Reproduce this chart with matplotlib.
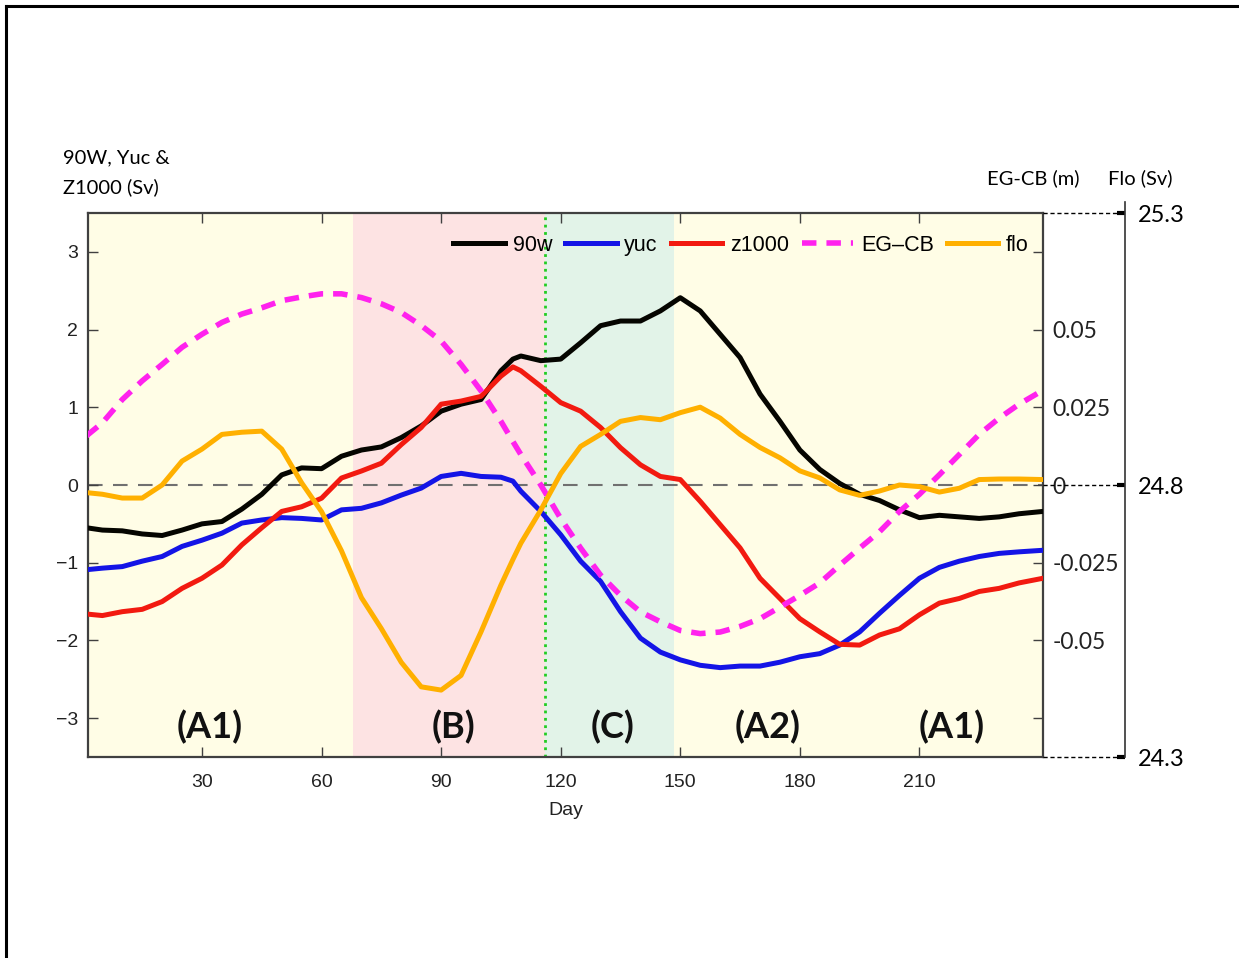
import matplotlib
matplotlib.use("Agg")
import matplotlib.pyplot as plt
import numpy as np

# day axis and the five series
days = [1, 5, 10, 15, 20, 25, 30, 35, 40, 45, 50, 55, 60, 65, 70, 75, 80, 85, 90, 95,
        100, 105, 108, 110, 115, 120, 125, 130, 135, 140, 145, 150, 155, 160, 165, 170,
        175, 180, 185, 190, 195, 200, 205, 210, 215, 220, 225, 230, 235, 241]

w90 = [-0.55, -0.58, -0.59, -0.63, -0.65, -0.58, -0.50, -0.47, -0.31, -0.12, 0.13, 0.22,
       0.21, 0.37, 0.45, 0.49, 0.61, 0.76, 0.95, 1.04, 1.10, 1.47, 1.62, 1.66, 1.60, 1.62,
       1.83, 2.05, 2.11, 2.11, 2.24, 2.41, 2.24, 1.94, 1.64, 1.17, 0.82, 0.45, 0.20, 0.02,
       -0.12, -0.20, -0.32, -0.42, -0.39, -0.41, -0.43, -0.41, -0.37, -0.34]

yuc = [-1.09, -1.07, -1.05, -0.98, -0.92, -0.79, -0.71, -0.62, -0.49, -0.45, -0.42, -0.43,
       -0.45, -0.32, -0.30, -0.23, -0.13, -0.04, 0.11, 0.15, 0.11, 0.10, 0.05, -0.08, -0.34,
       -0.64, -0.98, -1.24, -1.63, -1.97, -2.15, -2.25, -2.32, -2.35, -2.33, -2.33, -2.28,
       -2.21, -2.17, -2.06, -1.89, -1.65, -1.42, -1.20, -1.06, -0.98, -0.92, -0.88, -0.86, -0.84]

z1000 = [-1.66, -1.68, -1.63, -1.60, -1.50, -1.33, -1.20, -1.03, -0.77, -0.55, -0.34, -0.28,
         -0.17, 0.09, 0.18, 0.28, 0.52, 0.74, 1.04, 1.08, 1.14, 1.40, 1.52, 1.47, 1.27, 1.06,
         0.95, 0.74, 0.48, 0.26, 0.11, 0.07, -0.21, -0.51, -0.81, -1.20, -1.46, -1.72, -1.89,
         -2.05, -2.06, -1.93, -1.85, -1.67, -1.52, -1.46, -1.37, -1.33, -1.26, -1.20]

egcb = [0.0158, 0.0200, 0.0275, 0.0335, 0.0388, 0.0443, 0.0485, 0.0523, 0.0550, 0.0570,
        0.0593, 0.0605, 0.0615, 0.0615, 0.0603, 0.0583, 0.0555, 0.0513, 0.0463, 0.0388,
        0.0303, 0.0205, 0.0140, 0.0098, 0.0000, -0.0108, -0.0203, -0.0290, -0.0355, -0.0408,
        -0.0440, -0.0468, -0.0478, -0.0473, -0.0455, -0.0430, -0.0393, -0.0355, -0.0315,
        -0.0258, -0.0203, -0.0150, -0.0085, -0.0030, 0.0033, 0.0098, 0.0163, 0.0215, 0.0260, 0.0305]

flo = [24.786, 24.783, 24.776, 24.776, 24.800, 24.844, 24.866, 24.893, 24.897, 24.899,
       24.866, 24.804, 24.751, 24.679, 24.593, 24.536, 24.474, 24.429, 24.423, 24.450,
       24.530, 24.616, 24.663, 24.693, 24.754, 24.821, 24.871, 24.893, 24.917, 24.924,
       24.920, 24.933, 24.943, 24.923, 24.893, 24.869, 24.850, 24.826, 24.813, 24.791,
       24.781, 24.789, 24.800, 24.797, 24.787, 24.794, 24.810, 24.811, 24.811, 24.810]

# phases
phase_edges = [1.4, 68, 116, 148.5, 241]
phase_cols = ['#FFFDE6', '#FDE3E3', '#E2F3E8', '#FFFDE6']
phase_names = ['(A1)', '(B)', '(C)', '(A2)', '(A1)']
phase_x = [32, 93, 133, 172, 218]

helv = 'Liberation Sans'
cal = 'Lato'
ax_col = '#404040'
LW = 3.6

fig = plt.figure(figsize=(12.39, 9.58), dpi=100)
ax = fig.add_axes([88/1239, 1-757/958, (1043-88)/1239, (757-213)/958])

for i in range(4):
    ax.axvspan(phase_edges[i], phase_edges[i+1], color=phase_cols[i], lw=0, zorder=0)
ax.axvline(116, color='#22CC22', lw=2, ls=':', zorder=1)
ax.axhline(0, color='#707070', lw=1.5, dashes=(7, 5), zorder=1)

l1, = ax.plot(days, w90, color='#050500', lw=LW, label='90w', zorder=3, solid_joinstyle='round')
l2, = ax.plot(days, yuc, color='#1414E6', lw=LW, label='yuc', zorder=3, solid_joinstyle='round')
l3, = ax.plot(days, z1000, color='#F21A10', lw=LW, label='z1000', zorder=3, solid_joinstyle='round')

ax.set_xlim(1.4, 241)
ax.set_ylim(-3.5, 3.5)
ax.set_xticks([30, 60, 90, 120, 150, 180, 210])
ax.set_yticks([-3, -2, -1, 0, 1, 2, 3])
ax.tick_params(direction='in', length=7, width=1, colors=ax_col, labelcolor='#222222',
               labelsize=14, top=True)
ax.tick_params(axis='x', pad=12)
ax.tick_params(axis='y', pad=7)
for lab in ax.get_xticklabels() + ax.get_yticklabels():
    lab.set_fontfamily(helv)
ax.set_xlabel('Day', fontsize=14, fontfamily=helv, color='#222222', labelpad=8)
for s in ax.spines.values():
    s.set_color(ax_col)
    s.set_linewidth(1.6)

for name, xp in zip(phase_names, phase_x):
    ax.text(xp, -3.12, name, fontsize=26, fontweight='bold', fontfamily=cal,
            ha='center', va='center', color='#111111', zorder=5)

# EG-CB axis
ax2 = ax.twinx()
ax2.set_ylim(-0.0875, 0.0875)
l4, = ax2.plot(days, egcb, color='#FF22EE', lw=4, dashes=(2.6, 1.8), label='EG\u2013CB', zorder=2)
ax2.set_yticks([-0.075, -0.05, -0.025, 0, 0.025, 0.05, 0.075])
ax2.set_yticklabels(['', '-0.05', '-0.025', '0', '0.025', '0.05', ''])
ax2.tick_params(direction='in', length=7, width=1, colors=ax_col, labelcolor='#222222',
                labelsize=16.5, pad=7)
for lab in ax2.get_yticklabels():
    lab.set_fontfamily(cal)
for s in ax2.spines.values():
    s.set_visible(False)

# Flo axis
ax3 = ax.twinx()
ax3.spines['right'].set_position(('axes', 1.086))
ax3.set_ylim(24.3, 25.3)
l5, = ax3.plot(days, flo, color='#FFB000', lw=LW, label='flo', zorder=2, solid_joinstyle='round')
ax3.set_yticks([24.3, 24.8, 25.3])
ax3.set_yticklabels(['24.3', '24.8', '25.3'])
ax3.tick_params(direction='in', length=6, width=3, colors='black', labelsize=17, pad=9)
for lab in ax3.get_yticklabels():
    lab.set_fontfamily(cal)
for k, s in ax3.spines.items():
    s.set_visible(k == 'right')
ax3.spines['right'].set_bounds(24.3, 25.32)
ax3.spines['right'].set_color('#333333')
ax3.spines['right'].set_linewidth(1.2)
for yv in [24.3, 24.8, 25.3]:
    ax3.plot([1.0, 1.086], [yv, yv], transform=ax3.get_yaxis_transform(), clip_on=False,
             color='black', lw=1, dashes=(3, 2))

ax3.legend(handles=[l1, l2, l3, l4, l5], loc='center right', bbox_to_anchor=(0.985, 0.941),
           ncol=5, frameon=False, handlelength=2.4, handletextpad=0.35, columnspacing=0.6,
           borderpad=0, borderaxespad=0,
           prop={'family': helv, 'size': 15.5})

fig.text(63/1239, 1-158/958, '90W, Yuc &', fontsize=14.5, fontfamily=cal, va='center', ha='left')
fig.text(63/1239, 1-187/958, 'Z1000 (Sv)', fontsize=14.5, fontfamily=cal, va='center', ha='left')
fig.text(987/1239, 1-178/958, 'EG-CB (m)', fontsize=14.5, fontfamily=cal, va='center', ha='left')
fig.text(1108/1239, 1-178/958, 'Flo (Sv)', fontsize=14.5, fontfamily=cal, va='center', ha='left')

# page frame (top and left edges)
fig.add_artist(plt.Line2D([6/1239, 1], [1-6/958, 1-6/958], color='black', lw=2.2))
fig.add_artist(plt.Line2D([6/1239, 6/1239], [0, 1-6/958], color='black', lw=2.2))

fig.savefig('out.png', dpi=100)
